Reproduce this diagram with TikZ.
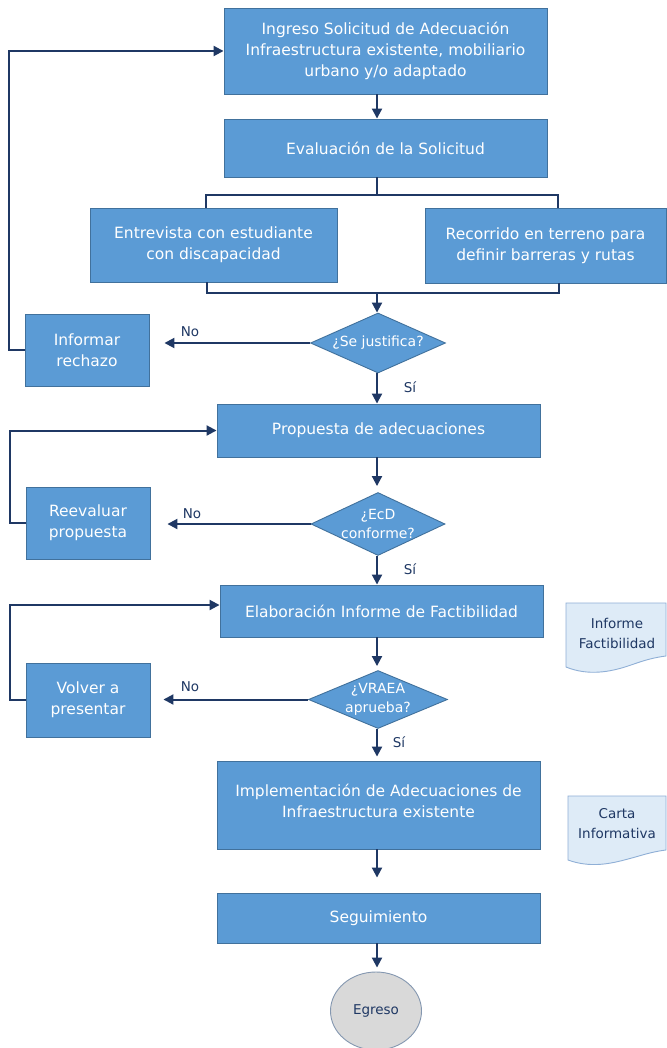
\documentclass[tikz,border=0pt]{standalone}
\usepackage{fontspec}
\setmainfont{DejaVu Sans}
\usetikzlibrary{shapes.geometric,arrows.meta,calc}
\definecolor{boxfill}{HTML}{5B9BD5}
\definecolor{boxline}{HTML}{41719C}
\definecolor{navy}{HTML}{1F3864}
\definecolor{docfill}{HTML}{DEEBF7}
\definecolor{docline}{HTML}{8FAFD6}
\definecolor{endfill}{HTML}{D9D9D9}
\definecolor{endline}{HTML}{8497B0}
\tikzset{
  proc/.style={rectangle, draw=boxline, line width=0.9pt, fill=boxfill, text=white, align=center, inner sep=2pt, font=\fontsize{15.5}{21}\selectfont},
  dec/.style={diamond, draw=boxline, line width=0.9pt, fill=boxfill, inner sep=0pt},
  dectext/.style={text=white, align=center, inner sep=0pt, font=\fontsize{14}{19}\selectfont},
  lbl/.style={text=navy, inner sep=0pt, font=\fontsize{13.5}{16}\selectfont},
  arr/.style={draw=navy, line width=2pt, -{Triangle[length=10pt,width=10pt]}},
  ln/.style={draw=navy, line width=2pt},
  docshape/.style={draw=docline, line width=0.9pt, fill=docfill},
  doctext/.style={text=navy, align=center, inner sep=0pt, font=\fontsize{13.5}{20}\selectfont},
}
\begin{document}
\begin{tikzpicture}[x=1pt,y=-1pt]
\useasboundingbox[fill=white] (0,0) rectangle (666,1048);
\coordinate (ax) at (377,0);

% process boxes
\node[proc, minimum width=323pt, minimum height=86pt] (b1) at (385.5,51) {Ingreso Solicitud de Adecuación\\Infraestructura existente, mobiliario\\urbano y/o adaptado};
\node[proc, minimum width=323pt, minimum height=58pt] (b2) at (385.5,148) {Evaluación de la Solicitud};
\node[proc, minimum width=247pt, minimum height=74pt] (b3) at (213.5,245) {Entrevista con estudiante\\con discapacidad};
\node[proc, minimum width=241pt, minimum height=75pt] (b4) at (545.5,245.5) {Recorrido en terreno para\\definir barreras y rutas};

\node[dec, minimum width=135pt, minimum height=60pt] (d1) at (378,343) {};
\node[dectext] (d1t) at (d1) {¿Se justifica?};
\node[proc, minimum width=124pt, minimum height=72pt] (r1) at (87,350) {Informar\\rechazo};

\node[proc, minimum width=323pt, minimum height=53pt] (p) at (378.5,430.5) {Propuesta de adecuaciones};
\node[dec, minimum width=134pt, minimum height=63pt] (d2) at (378,524) {};
\node[dectext] (d2t) at (d2) {¿EcD\\conforme?};
\node[proc, minimum width=124pt, minimum height=72pt] (r2) at (88,523) {Reevaluar\\propuesta};

\node[proc, minimum width=323pt, minimum height=52pt] (e) at (381.5,611) {Elaboración Informe de Factibilidad};
\node[dec, minimum width=139pt, minimum height=58pt] (d3) at (378,699.5) {};
\node[dectext] (d3t) at (d3) {¿VRAEA\\aprueba?};
\node[proc, minimum width=124pt, minimum height=74pt] (r3) at (88,700) {Volver a\\presentar};

\node[proc, minimum width=323pt, minimum height=88pt] (im) at (378.5,805) {};
\node[proc, draw=none, fill=none] (imt) at (378.5,801) {Implementación de Adecuaciones de\\Infraestructura existente};
\node[proc, minimum width=323pt, minimum height=50pt] (s) at (378.5,918) {Seguimiento};
\node[ellipse, draw=endline, line width=0.9pt, fill=endfill, minimum width=91pt, minimum height=78pt, text=navy, font=\fontsize{13.5}{16}\selectfont] (eg) at (376,1011) {Egreso};

% documents
\draw[docshape] (566,603) -- (666,603) -- (666,656) .. controls (650,658) and (640,662) .. (628,666) .. controls (610,672) and (588,676) .. (566,667) -- cycle;
\node[doctext] (doc1) at (617,633) {Informe\\Factibilidad};
\draw[docshape] (568,796) -- (666,796) -- (666,850) .. controls (650,852) and (640,856) .. (628,859) .. controls (610,864) and (590,868) .. (568,860) -- cycle;
\node[doctext] (doc2) at (617,824) {Carta\\Informativa};

% main flow
\draw[arr] (b1.south -| ax) -- (b2.north -| ax);
\coordinate (br) at (377,195);
\coordinate (brL) at (206,195);
\coordinate (brR) at (558,195);
\draw[ln] (b2.south -| ax) -- (br);
\draw[ln] (b3.north -| brL) -- (brL) -- (brR) -- (b4.north -| brR);
\coordinate (mg) at (377,293);
\coordinate (mgL) at (207,293);
\coordinate (mgR) at (559,293);
\draw[ln] (b3.south -| mgL) -- (mgL) -- (mgR) -- (b4.south -| mgR);
\draw[arr] (mg) -- (d1.north -| ax);
\draw[arr] (d1.south -| ax) -- (p.north -| ax);
\draw[arr] (p.south -| ax) -- ([yshift=6pt]d2.north -| ax);
\draw[arr] (d2.south -| ax) -- (e.north -| ax);
\draw[arr] (e.south -| ax) -- ([yshift=4pt]d3.north -| ax);
\draw[arr] (d3.south -| ax) -- ([yshift=4pt]im.north -| ax);
\draw[arr] (im.south -| ax) -- ([yshift=15pt]s.north -| ax);
\draw[arr] (s.south -| ax) -- ([yshift=4pt]eg.north -| ax);

% No branches
\draw[arr] (d1.west) -- ([xshift=15pt]r1.east |- d1.west);
\draw[arr] (d2.west) -- ([xshift=17pt]r2.east |- d2.west);
\draw[arr] (d3.west) -- ([xshift=13pt]r3.east |- d3.west);

% loops back
\draw[arr] (r1.west) -- ++(-15.5,0) |- (b1.west);
\draw[arr] (r2.west) -- ++(-16,0) |- (p.west);
\draw[arr] (r3.west) -- ++(-16,0) |- ([yshift=6pt]e.west);

% labels
\node[lbl] (no1) at (190,332) {No};
\node[lbl] (no2) at (192,514) {No};
\node[lbl] (no3) at (190,687) {No};
\node[lbl] (si1) at (410,387) {Sí};
\node[lbl] (si2) at (410,569) {Sí};
\node[lbl] (si3) at (399,742) {Sí};
\end{tikzpicture}
\end{document}
